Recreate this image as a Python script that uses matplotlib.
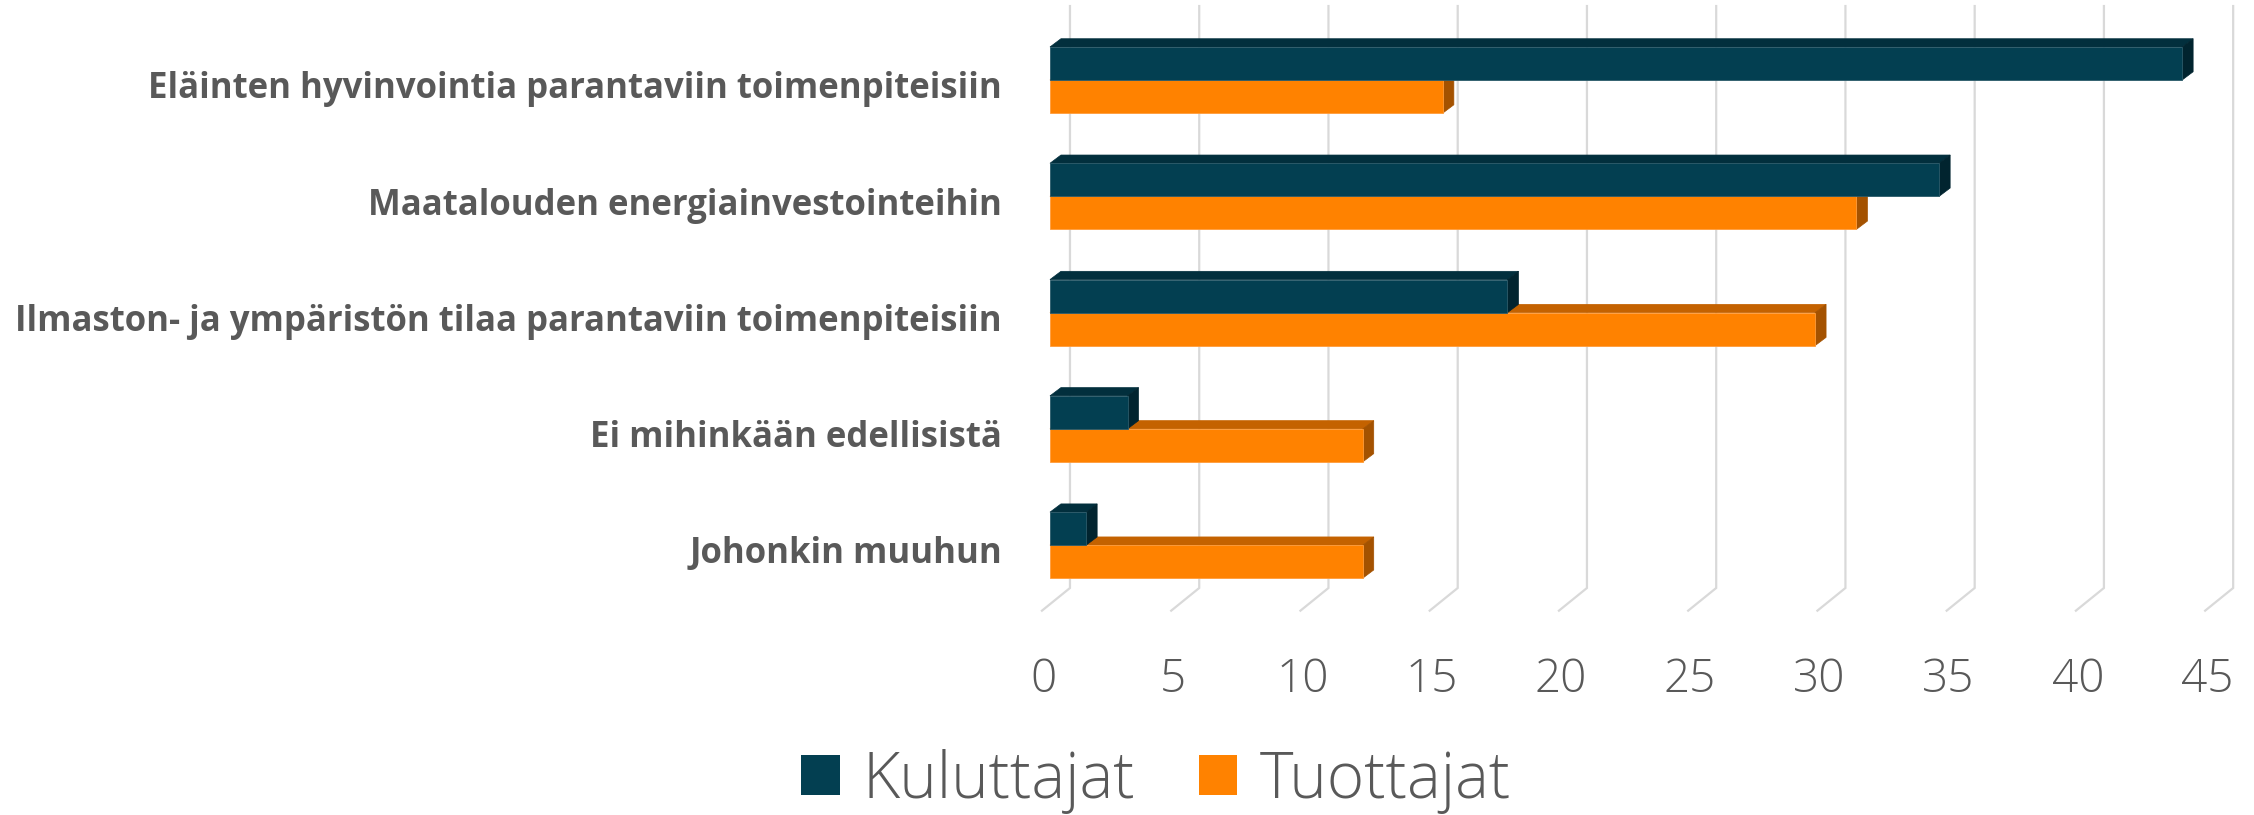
import matplotlib
matplotlib.use("Agg")
import matplotlib.pyplot as plt
from matplotlib.patches import Polygon, Patch
import numpy as np

categories = ["Eläinten hyvinvointia parantaviin toimenpiteisiin",
              "Maatalouden energiainvestointeihin",
              "Ilmaston- ja ympäristön tilaa parantaviin toimenpiteisiin",
              "Ei mihinkään edellisistä",
              "Johonkin muuhun"]
kuluttajat = [43.8, 34.4, 17.7, 3.0, 1.4]
tuottajat = [15.2, 31.2, 29.6, 12.1, 12.1]
series_names = ["Kuluttajat", "Tuottajat"]
ticks = list(range(0, 50, 5))

# colours: front, top, side
kul_c = ("#033f51", "#022f3d", "#01242f")
tuo_c = ("#ff8200", "#c46200", "#a45200")
grey_txt = "#595959"
grid_c = "#d9d9d9"

# fake 3d geometry, in data units
h = 0.284        # bar thickness
dx, dy = 0.425, 0.071   # bar depth offset
back_x, front_x = 0.774, -0.31
grid_top, grid_back_bot, grid_front_bot = -0.636, 4.368, 4.563

fig = plt.figure(figsize=(22.54, 8.15), dpi=100)
ax = fig.add_axes([0, 0, 1, 1])
ax.set_xlim(-40.62, 46.58)
ax.set_ylim(6.32, -0.688)
ax.axis("off")

# gridlines on back wall plus floor diagonals
for t in ticks:
    ax.plot([t + back_x, t + back_x, t + front_x],
            [grid_top, grid_back_bot, grid_front_bot],
            color=grid_c, lw=1.6, zorder=1, solid_joinstyle="miter")
    ax.text(t + front_x + 0.07, 5.16, str(t), ha="center", va="center",
            fontsize=33, color=grey_txt, family="Open Sans", fontweight="light")


def box(y0, v, cols):
    # top face and side face of a bar whose front face starts at y0
    top = Polygon([(0, y0), (v, y0), (v + dx, y0 - dy), (dx, y0 - dy)],
                  closed=True, fc=cols[1], ec=cols[1], lw=0.5, zorder=3)
    side = Polygon([(v, y0), (v, y0 + h), (v + dx, y0 + h - dy), (v + dx, y0 - dy)],
                   closed=True, fc=cols[2], ec=cols[2], lw=0.5, zorder=3)
    ax.add_patch(top)
    ax.add_patch(side)


ys = np.arange(len(categories))
for i in ys:
    # Tuottajat first (lower bar), then Kuluttajat on top of it
    box(i, tuottajat[i], tuo_c)
    ax.barh(i + h / 2, tuottajat[i], height=h, color=tuo_c[0],
            edgecolor="#ff9c3a", lw=0.6, zorder=4)
    box(i - h, kuluttajat[i], kul_c)
    ax.barh(i - h / 2, kuluttajat[i], height=h, color=kul_c[0],
            edgecolor="#2b5a69", lw=0.6, zorder=5)

for i, name in enumerate(categories):
    ax.text(-1.86, i + 0.08, name, ha="right", va="center", fontsize=25,
            fontweight="bold", color=grey_txt, family="Open Sans")

handles = [Patch(facecolor=kul_c[0]), Patch(facecolor=tuo_c[0])]
fig.legend(handles, series_names, loc="center", bbox_to_anchor=(1156 / 2254, 1 - 781 / 815),
           ncol=2, frameon=False, handlelength=0.6, handleheight=0.6,
           handletextpad=0.35, columnspacing=1.0,
           prop={"family": "Open Sans", "size": 46, "weight": "light"},
           labelcolor=grey_txt)

fig.savefig("out.png", dpi=100)
